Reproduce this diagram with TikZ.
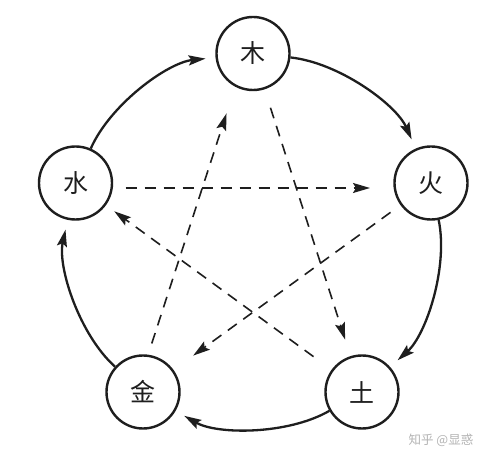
\documentclass[tikz,border=0pt]{standalone}
\usepackage{fontspec}
\newfontfamily\cjk{Noto Sans CJK SC}
\usetikzlibrary{arrows.meta}
\definecolor{ink}{HTML}{1E1E1E}
\definecolor{wm}{HTML}{B4B4B4}
\tikzset{
  elem/.style={circle, draw=ink, line width=2.4pt, minimum size=73pt, inner sep=0pt,
    font=\cjk\fontsize{25}{25}\selectfont, text=ink},
  tipshape/.style={-{Stealth[length=17pt,width=10pt,inset=3pt]}},
  genline/.style={tipshape, draw=ink, line width=2.3pt, shorten >=10pt},
  ctlline/.style={tipshape, draw=ink, line width=1.6pt, dash pattern=on 11pt off 8pt},
  cyc/.style={bend left=30, looseness=0.8},
}
\begin{document}
\begin{tikzpicture}[x=1pt,y=1pt]
\useasboundingbox[fill=white] (0,0) rectangle (493,461);
\node[elem] (mu)   at (253,407.5) {木};
\node[elem] (huo)  at (431,278)   {火};
\node[elem] (tu)   at (362,69)    {土};
\node[elem] (jin)  at (143,69)    {金};
\node[elem] (shui) at (75.5,278)  {水};
% generating cycle
\draw[genline] (mu)   to[cyc] (huo);
\draw[genline] (huo)  to[cyc] (tu);
\draw[genline] (tu)   to[cyc] (jin);
\draw[genline] (jin)  to[cyc] (shui);
\draw[genline] (shui) to[cyc] (mu);
% controlling star
\draw[ctlline, shorten <=50pt, shorten >=61pt] ([yshift=-5pt]shui.center) -- ([yshift=-5pt]huo.center);
\draw[ctlline, shorten <=57pt, shorten >=55pt] (mu.center) -- (tu.center);
\draw[ctlline, shorten <=60pt, shorten >=48pt] (tu.center) -- (shui.center);
\draw[ctlline, shorten <=50pt, shorten >=62pt] (huo.center) -- (jin.center);
\draw[ctlline, shorten <=51pt, shorten >=63pt] ([xshift=-7pt]jin.center) -- ([xshift=-7pt]mu.center);
% watermark
\node[text=wm, font=\cjk\fontsize{12.5}{12.5}\selectfont] (wmark) at (441,21) {知乎 @显惑};
\end{tikzpicture}
\end{document}
